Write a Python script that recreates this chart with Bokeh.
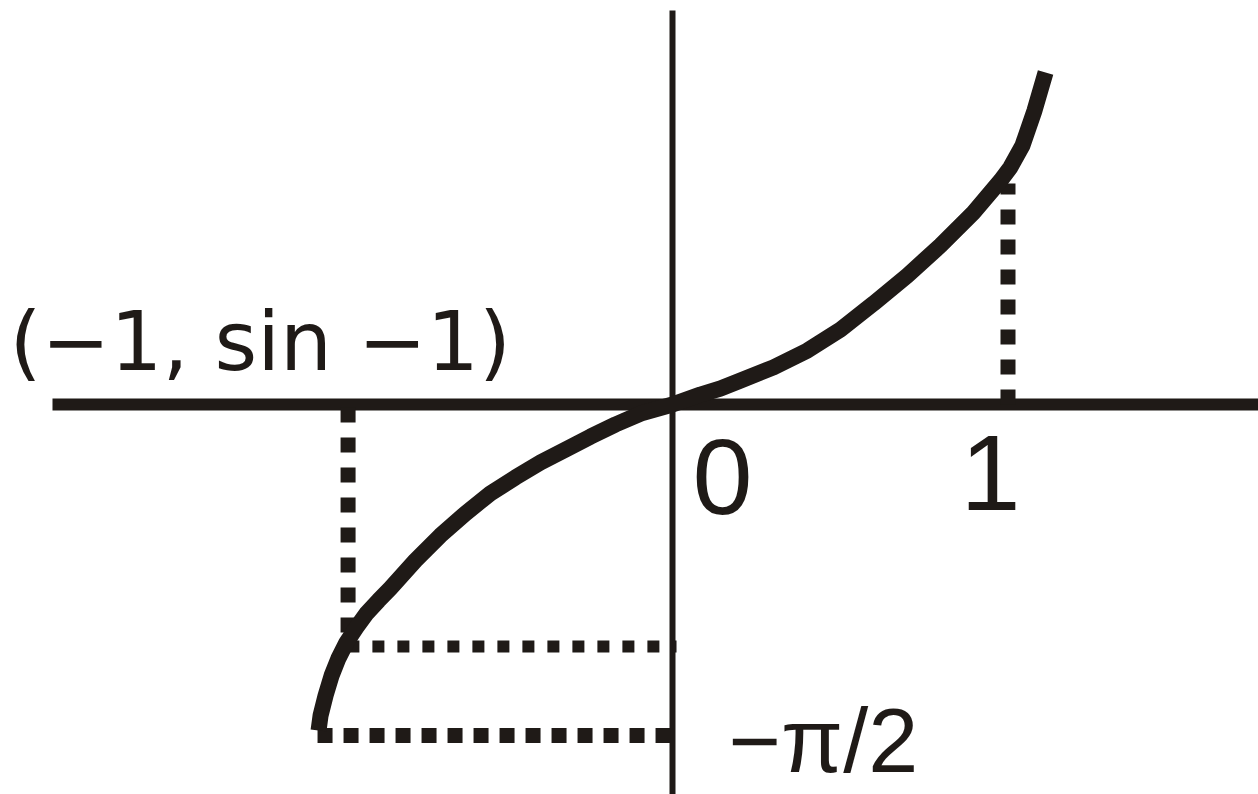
from bokeh.plotting import figure
from bokeh.models import Range1d
from bokeh.core.properties import value
from bokeh.embed import file_html
from bokeh.resources import INLINE

# ---- data (graph units: x in units of "1", y in radians) ----
curve_x = [-1.055, -1.049, -1.034, -1.016, -0.996, -0.972, -0.942, -0.912, -0.876,
           -0.841, -0.766, -0.692, -0.617, -0.543, -0.468, -0.393, -0.319, -0.244,
           -0.170, -0.095, 0.0, 0.083, 0.143, 0.203, 0.301, 0.402, 0.501, 0.599,
           0.700, 0.799, 0.897, 0.978, 1.007, 1.043, 1.079, 1.112]
curve_y = [-1.547, -1.476, -1.381, -1.286, -1.206, -1.130, -1.058, -0.992, -0.930,
           -0.873, -0.740, -0.622, -0.517, -0.422, -0.346, -0.275, -0.214, -0.152,
           -0.095, -0.043, 0.0, 0.047, 0.076, 0.114, 0.176, 0.256, 0.356, 0.479,
           0.612, 0.755, 0.911, 1.063, 1.125, 1.229, 1.395, 1.576]

left_guide_x = -0.967
left_guide_y = [-0.014, -1.149]
mid_guide_y = -1.149
mid_guide_x = [-0.969, 0.012]
bottom_guide_y = -1.571
bottom_guide_x = [-1.058, 0.012]
right_guide_x = 1.0
right_guide_y = [0.0, 1.049]

x_axis_x = [-1.848, 1.80]
y_axis_y = [1.870, -1.90]

point_label = "(\u22121, sin \u22121)"
point_label_pos = (-1.976, 0.299)
tick_labels = ["0", "1"]
tick_label_x = [0.149, 0.948]
tick_label_y = [-0.346, -0.323]
pi_label = "\u2212\u03c0/2"
pi_label_pos = (0.167, -1.599)

INK = "#1f1a17"

# pixel geometry (layout only)
W, H = 1258, 794
XU, YU = 335.5, 210.7       # px per unit
OX, OY = 672, 404           # origin in canvas px

p = figure(width=W, height=H, output_backend="svg", toolbar_location=None,
           x_axis_type=None, y_axis_type=None, min_border=0,
           x_range=Range1d(-OX / XU, (W - OX) / XU),
           y_range=Range1d(-(H - OY) / YU, OY / YU))
p.grid.visible = False
p.outline_line_color = None
p.background_fill_color = "white"
p.border_fill_color = "white"

# axes
p.line(x_axis_x, [0, 0], line_color=INK, line_width=12)
p.line([0, 0], y_axis_y, line_color=INK, line_width=6)

# dotted guides
p.line([left_guide_x] * 2, left_guide_y, line_color=INK, line_width=15, line_dash="15 15")
p.line(mid_guide_x, [mid_guide_y] * 2, line_color=INK, line_width=12, line_dash="12 13")
p.line(bottom_guide_x, [bottom_guide_y] * 2, line_color=INK, line_width=15, line_dash="15 11")
p.line([right_guide_x] * 2, right_guide_y, line_color=INK, line_width=15, line_dash="15 15")

# curve
p.line(curve_x, curve_y, line_color=INK, line_width=16, line_join="round", line_cap="butt")

# labels
p.text(x=[point_label_pos[0]], y=[point_label_pos[1]], text=[point_label],
       text_font=value("DejaVu Sans"), text_font_size="82px", text_color=INK,
       text_align="left", text_baseline="alphabetic")
p.text(x=tick_label_x, y=tick_label_y, text=tick_labels,
       text_font=value("Liberation Sans"), text_font_size="108px", text_color=INK,
       text_align="center", text_baseline="alphabetic")
p.text(x=[pi_label_pos[0]], y=[pi_label_pos[1]], text=[pi_label],
       text_font=value("Liberation Sans"), text_font_size="90px", text_color=INK,
       text_align="left", text_baseline="alphabetic")

open("out.html", "w").write(file_html(p, INLINE))
